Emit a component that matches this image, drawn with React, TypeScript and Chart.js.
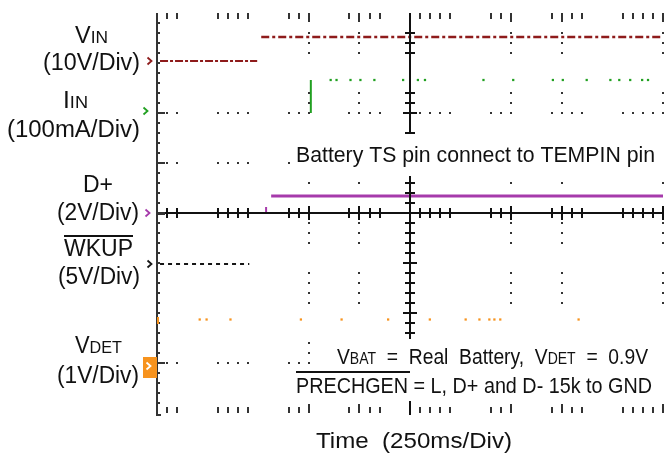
import { useEffect, useRef } from "react";
import { Chart, registerables } from "chart.js";

Chart.register(...registerables);

// ---------- data (time in ms, 250 ms/div, 10 divisions; y in graticule divisions) ----------
const TIME_MAX_MS = 2500;
const MS_PER_DIV = 250;
const Y_DIVS = 8;

// channel ground levels (divisions from bottom of screen) and scales
const VIN_GROUND_DIV = 7.04;
const IIN_GROUND_DIV = 6;
const DP_GROUND_DIV = 4;
const WKUP_GROUND_DIV = 2.98;
const VDET_GROUND_DIV = 0.94;

const VIN_V_PER_DIV = 10;
const IIN_MA_PER_DIV = 100;
const DP_V_PER_DIV = 2;
const WKUP_V_PER_DIV = 5;
const VDET_V_PER_DIV = 1;

// V_IN (V)
const VIN_OFF_T = [15, 495];
const VIN_OFF_V = [0, 0];
const VIN_ON_T = [515, 2500];
const VIN_ON_V = [4.8, 4.8];

// I_IN (mA)
const IIN_STEP_T = [760, 760];
const IIN_STEP_MA = [0, 66];
const IIN_DOT_T = [858, 887, 956, 1005, 1074, 1216, 1289, 1324, 1613, 1760, 1956, 2005, 2123, 2240, 2284, 2338, 2397, 2426];
const IIN_DOT_MA = [66, 66, 66, 66, 66, 66, 66, 66, 66, 66, 66, 66, 66, 66, 66, 66, 66, 66];

// D+ (V)
const DP_LOW_T = [466, 485];
const DP_LOW_V = [0, 0];
const DP_BLIP_T = [539, 539];
const DP_BLIP_V = [0, 0.24];
const DP_HIGH_T = [564, 2500];
const DP_HIGH_V = [0.68, 0.68];

// WKUP (V)
const WKUP_T = [15, 456];
const WKUP_V = [0, 0];

// V_DET (V)
const VDET_DOT_T = [0, 211, 245, 363, 711, 912, 1142, 1348, 1525, 1593, 1642, 1667, 1696, 2083];
const VDET_DOT_V = [0.9, 0.93, 0.93, 0.93, 0.93, 0.93, 0.93, 0.93, 0.93, 0.93, 0.93, 0.93, 0.93, 0.93];

// ---------- graticule pattern (which minor marks survived in the capture) ----------
const X_MINOR_VISIBLE = [1, 2, 6, 7, 8, 9, 13, 14, 15, 19, 20, 21, 22, 25, 26, 27, 28, 29, 33, 34, 35, 39, 40, 41, 42, 46, 47, 48, 49, 50];
const Y_MINOR_VISIBLE = [2, 3, 4, 8, 9, 10, 17, 21, 22, 23, 26, 27, 28, 29, 33, 34, 35];
const GRID_COLUMNS = [3, 4, 7, 8, 10];
const GRID_ROWS_FROM_TOP = [2, 3, 7];

const COLORS = {
  vin: "#8e1b1b",
  iin: "#21a021",
  dp: "#a63aab",
  wkup: "#151515",
  vdet: "#f7931e",
  grid: "#333333",
};

const FONT = '"Liberation Sans", Arial, sans-serif';

const pts = (ts: number[], vs: number[], ground: number, perDiv: number) =>
  ts.map((t, i) => ({ x: t, y: ground + vs[i] / perDiv }));

type Part = { t: string; size: number; dy?: number };

function drawRich(ctx: CanvasRenderingContext2D, parts: Part[], left: number, right: number, baseline: number) {
  let w = 0;
  for (const p of parts) {
    ctx.font = `${p.size}px ${FONT}`;
    w += ctx.measureText(p.t).width;
  }
  const sx = (right - left) / w;
  ctx.save();
  ctx.translate(left, baseline);
  ctx.scale(sx, 1);
  let x = 0;
  for (const p of parts) {
    ctx.font = `${p.size}px ${FONT}`;
    ctx.fillText(p.t, x, p.dy || 0);
    x += ctx.measureText(p.t).width;
  }
  ctx.restore();
}

function chevron(ctx: CanvasRenderingContext2D, x: number, y: number, color: string) {
  ctx.save();
  ctx.strokeStyle = color;
  ctx.lineWidth = 1.8;
  ctx.beginPath();
  ctx.moveTo(x - 2.5, y - 3.5);
  ctx.lineTo(x + 1.5, y);
  ctx.lineTo(x - 2.5, y + 3.5);
  ctx.stroke();
  ctx.restore();
}

const scopePlugin = {
  id: "scope",
  afterDatasetsDraw(chart: any) {
    const ctx: CanvasRenderingContext2D = chart.ctx;
    const xs = chart.scales.x;
    const ys = chart.scales.y;
    const minorMs = MS_PER_DIV / 5;
    const px = (k: number) => xs.getPixelForValue(k * minorMs);
    const pyTop = (j: number) => ys.getPixelForValue(Y_DIVS - j / 5);
    const top = pyTop(0);
    const bottom = pyTop(40);
    const left = px(0);
    const cx = px(25);
    const cy = pyTop(20);

    ctx.save();
    ctx.fillStyle = COLORS.grid;
    // column dots
    for (const c of GRID_COLUMNS) {
      const x = px(c * 5);
      for (const j of Y_MINOR_VISIBLE) {
        ctx.fillRect(Math.round(x) - 1, Math.round(pyTop(j)) - 1, 2, 2);
      }
    }
    // row dots
    for (const r of GRID_ROWS_FROM_TOP) {
      const y = pyTop(r * 5);
      for (const k of X_MINOR_VISIBLE) {
        ctx.fillRect(Math.round(px(k)) - 1, Math.round(y) - 1, 2, 2);
      }
    }
    // top and bottom tick rows
    for (const k of X_MINOR_VISIBLE) {
      const x = Math.round(px(k)) - 1;
      const major = k % 5 === 0;
      ctx.fillRect(x, top, 2, major ? 9 : 6);
      ctx.fillRect(x, bottom - (major ? 9 : 6), 2, major ? 9 : 6);
    }
    // centre axes
    ctx.fillStyle = "#111";
    ctx.fillRect(left, cy - 1, xs.right - left, 2);
    ctx.fillRect(cx - 1, top, 2, bottom - top + 2);
    for (const k of X_MINOR_VISIBLE) {
      const x = Math.round(px(k)) - 1;
      const h = k % 5 === 0 ? 7 : 5;
      ctx.fillRect(x, cy - h, 2, 2 * h);
    }
    for (const j of Y_MINOR_VISIBLE.concat([12, 13, 14, 15, 16, 18, 19, 24, 25, 30, 31, 32])) {
      const y = Math.round(pyTop(j)) - 1;
      const h = j % 5 === 0 ? 7 : 5;
      ctx.fillRect(cx - h, y, 2 * h, 2);
    }
    // left border with ticks
    ctx.fillStyle = "#333";
    ctx.fillRect(left - 1, top, 2, bottom - top + 3);
    ctx.fillRect(left - 1, bottom + 1, 5, 2);
    for (let j = 1; j < 40; j++) {
      const y = Math.round(pyTop(j)) - 1;
      const row = GRID_ROWS_FROM_TOP.includes(j / 5) || j === 20;
      ctx.fillRect(left, y, row ? 8 : 3, row && j === 20 ? 3 : 2);
    }
    ctx.restore();
  },
  afterDraw(chart: any) {
    const ctx: CanvasRenderingContext2D = chart.ctx;
    const ys = chart.scales.y;
    const xs = chart.scales.x;
    ctx.save();
    // white panels behind the in-plot annotations
    ctx.fillStyle = "#ffffff";
    ctx.fillRect(292, 134, 372, 42);
    ctx.fillRect(330, 339, 334, 30);
    ctx.fillRect(292, 369, 372, 32);

    ctx.fillStyle = "#111";
    ctx.textBaseline = "alphabetic";

    drawRich(ctx, [{ t: "V", size: 23 }, { t: "IN", size: 17 }], 75, 108, 43);
    drawRich(ctx, [{ t: "(10V/Div)", size: 23 }], 43, 140, 70);
    drawRich(ctx, [{ t: "I", size: 23 }, { t: "IN", size: 17 }], 63, 88, 108);
    drawRich(ctx, [{ t: "(100mA/Div)", size: 23 }], 7, 140, 137);
    drawRich(ctx, [{ t: "D+", size: 23 }], 83, 113, 192);
    drawRich(ctx, [{ t: "(2V/Div)", size: 23 }], 57, 139, 220);
    drawRich(ctx, [{ t: "WKUP", size: 23 }], 64, 133, 256);
    ctx.fillRect(64, 235, 69, 2);
    drawRich(ctx, [{ t: "(5V/Div)", size: 23 }], 58, 140, 284);
    drawRich(ctx, [{ t: "V", size: 23 }, { t: "DET", size: 17 }], 75, 122, 353);
    drawRich(ctx, [{ t: "(1V/Div)", size: 23 }], 57, 139, 383);

    drawRich(ctx, [{ t: "Battery TS pin connect to TEMPIN pin", size: 22 }], 296, 655, 162);
    drawRich(
      ctx,
      [
        { t: "V", size: 22 },
        { t: "BAT", size: 16 },
        { t: "  =  Real  Battery,  V", size: 22 },
        { t: "DET", size: 16 },
        { t: "  =  0.9V", size: 22 },
      ],
      337,
      648,
      364
    );
    drawRich(ctx, [{ t: "PRECHGEN = L, D+ and D- 15k to GND", size: 22 }], 296, 652, 393);
    ctx.fillRect(296, 371, 114, 2);
    drawRich(ctx, [{ t: "Time  (250ms/Div)", size: 22 }], 316, 512, 448);

    // channel ground markers
    const gy = (d: number) => ys.getPixelForValue(d);
    chevron(ctx, 150, gy(VIN_GROUND_DIV), COLORS.vin);
    chevron(ctx, 146, gy(IIN_GROUND_DIV) - 2, COLORS.iin);
    chevron(ctx, 148, gy(DP_GROUND_DIV), COLORS.dp);
    chevron(ctx, 150, gy(WKUP_GROUND_DIV), COLORS.wkup);
    const vy = gy(VDET_GROUND_DIV);
    ctx.fillStyle = COLORS.vdet;
    ctx.fillRect(143, vy - 9, 14, 21);
    chevron(ctx, 149, vy, "#ffffff");
    ctx.fillStyle = COLORS.vdet;
    ctx.fillRect(xs.left, gy(VDET_GROUND_DIV + 0.9) - 4, 2, 7);
    ctx.restore();
  },
};

export default function App() {
  const ref = useRef<HTMLCanvasElement | null>(null);
  useEffect(() => {
    if (!ref.current) return;
    const line = (data: any[], color: string, width: number, dash: number[] = []) => ({
      data,
      showLine: true,
      borderColor: color,
      borderWidth: width,
      borderDash: dash,
      pointRadius: 0,
      fill: false,
      tension: 0,
    });
    const dots = (data: any[], color: string) => ({
      data,
      showLine: false,
      pointRadius: 1.6,
      pointBorderWidth: 0,
      pointBackgroundColor: color,
      pointStyle: "rect",
    });
    const chart = new Chart(ref.current, {
      type: "scatter",
      data: {
        datasets: [
          line(pts(VIN_OFF_T, VIN_OFF_V, VIN_GROUND_DIV, VIN_V_PER_DIV), COLORS.vin, 2.2, [8, 2, 3, 2]),
          line(pts(VIN_ON_T, VIN_ON_V, VIN_GROUND_DIV, VIN_V_PER_DIV), COLORS.vin, 2.5, [8, 3, 3, 3]),
          line(pts(IIN_STEP_T, IIN_STEP_MA, IIN_GROUND_DIV, IIN_MA_PER_DIV), COLORS.iin, 2),
          dots(pts(IIN_DOT_T, IIN_DOT_MA, IIN_GROUND_DIV, IIN_MA_PER_DIV), COLORS.iin),
          line(pts(DP_LOW_T, DP_LOW_V, DP_GROUND_DIV, DP_V_PER_DIV), COLORS.dp, 2),
          line(pts(DP_BLIP_T, DP_BLIP_V, DP_GROUND_DIV, DP_V_PER_DIV), COLORS.dp, 2),
          line(pts(DP_HIGH_T, DP_HIGH_V, DP_GROUND_DIV, DP_V_PER_DIV), COLORS.dp, 3),
          line(pts(WKUP_T, WKUP_V, WKUP_GROUND_DIV, WKUP_V_PER_DIV), COLORS.wkup, 2, [4, 4]),
          dots(pts(VDET_DOT_T, VDET_DOT_V, VDET_GROUND_DIV, VDET_V_PER_DIV), COLORS.vdet),
        ] as any,
      },
      options: {
        responsive: false,
        maintainAspectRatio: false,
        devicePixelRatio: 1,
        animation: false,
        layout: { padding: { left: 157, right: 0, top: 13, bottom: 44 } },
        plugins: { legend: { display: false }, tooltip: { enabled: false } },
        scales: {
          x: { type: "linear", min: 0, max: TIME_MAX_MS, display: false },
          y: { type: "linear", min: 0, max: Y_DIVS, display: false },
        },
      },
      plugins: [scopePlugin],
    });
    return () => chart.destroy();
  }, []);
  return (
    <div style={{ position: "fixed", left: 0, top: 0, width: 667, height: 457, background: "#fff" }}>
      <canvas ref={ref} width={667} height={457} style={{ display: "block", width: 667, height: 457 }} />
    </div>
  );
}
